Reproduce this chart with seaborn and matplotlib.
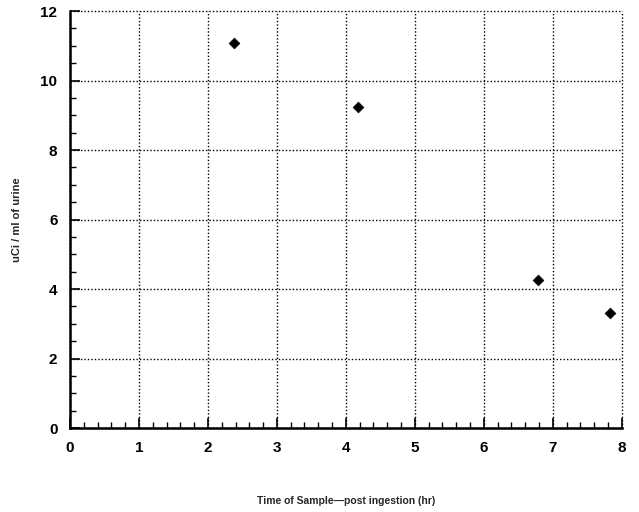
import matplotlib
matplotlib.use("Agg")
import matplotlib.pyplot as plt
from matplotlib.ticker import MultipleLocator
import pandas as pd
import seaborn as sns

# Sample times (hr) and activity (uCi / ml of urine)
time_hr = [2.38, 4.17, 6.78, 7.83]
uci_per_ml = [11.08, 9.24, 4.26, 3.31]

x_ticks = [0, 1, 2, 3, 4, 5, 6, 7, 8]
y_ticks = [0, 2, 4, 6, 8, 10, 12]

sns.set_style("white")
plt.rcParams["font.family"] = ["Liberation Sans", "DejaVu Sans"]

df = pd.DataFrame({"time": time_hr, "uci": uci_per_ml})

fig = plt.figure(figsize=(6.39, 5.12), dpi=100)
ax = fig.add_axes([0.1095, 0.164, 0.8635, 0.8145])

sns.scatterplot(data=df, x="time", y="uci", ax=ax, marker="D", s=30,
                color="black", edgecolor="black", linewidth=0.5, zorder=5)

ax.set_xlim(0, 8)
ax.set_ylim(0, 12)
ax.set_xticks(x_ticks)
ax.set_yticks(y_ticks)
ax.xaxis.set_minor_locator(MultipleLocator(0.2))
ax.yaxis.set_minor_locator(MultipleLocator(0.5))

# dotted grid, also serving as the top/right border
ax.grid(True, which="major", color="black", linestyle=(0, (1, 1.5)), lw=1.0)
for gl in ax.get_xgridlines() + ax.get_ygridlines():
    gl.set_clip_on(False)
for side in ["top", "right"]:
    ax.spines[side].set_visible(False)
for side in ["left", "bottom"]:
    ax.spines[side].set_color("black")
    ax.spines[side].set_linewidth(1.8)

ax.tick_params(which="major", direction="in", length=7, width=1.2, colors="black",
               labelsize=11, pad=9)
ax.tick_params(which="minor", direction="in", length=4, width=1.0, colors="black")
ax.tick_params(axis="x", which="both", bottom=True)
ax.tick_params(axis="y", which="both", left=True)
for lbl in ax.get_xticklabels() + ax.get_yticklabels():
    lbl.set_fontweight("bold")

ax.set_xlabel("Time of Sample\u2014post ingestion (hr)", fontsize=7.5,
              fontweight="bold", labelpad=30)
ax.set_ylabel("uCi / ml of urine", fontsize=8, fontweight="bold", labelpad=13)

fig.savefig("out.png", dpi=100)
